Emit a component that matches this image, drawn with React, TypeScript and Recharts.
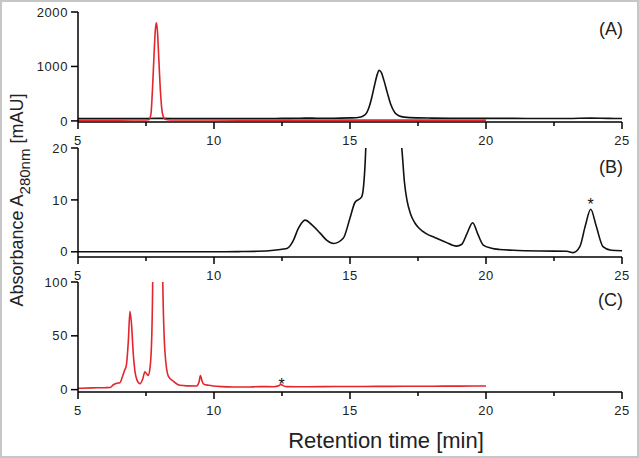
import React from 'react';
import { LineChart, Line, XAxis, YAxis, ReferenceDot } from 'recharts';

// Panel A: full-scale chromatograms (black + red overlay)
const A_BLACK_T = [5, 6, 7, 8, 9, 10, 11, 12, 12.5, 13, 13.35, 13.8, 14.4, 15, 15.3, 15.55, 15.7, 15.8, 15.9, 16.0, 16.07, 16.15, 16.25, 16.37, 16.5, 16.65, 16.8, 17.0, 17.5, 18, 19, 19.5, 20, 21, 22, 23, 23.85, 24.5, 25];
const A_BLACK_V = [45, 45, 45, 46, 45, 45, 45, 45, 46, 48, 52, 49, 48, 55, 62, 110, 250, 430, 650, 850, 930, 890, 740, 520, 300, 150, 95, 70, 56, 52, 48, 50, 47, 46, 45, 45, 52, 46, 45];
const A_RED_T = [5, 6, 7, 7.5, 7.6, 7.68, 7.74, 7.79, 7.84, 7.88, 7.92, 7.97, 8.03, 8.1, 8.2, 8.4, 9, 10, 12, 15, 18, 20];
const A_RED_V = [15, 15, 16, 18, 20, 120, 600, 1150, 1650, 1800, 1650, 1150, 550, 150, 30, 18, 17, 16, 15, 15, 15, 15];

// Panel B: zoom of black trace
const B_T = [5, 6, 7, 8, 9, 10, 11, 11.6, 12.2, 12.5, 12.7, 12.9, 13.1, 13.35, 13.6, 13.9, 14.15, 14.4, 14.75, 15.0, 15.18, 15.43, 15.52, 15.6, 16.07, 16.8, 16.92, 17.0, 17.1, 17.22, 17.38, 17.55, 17.8, 18.1, 18.5, 18.92, 19.1, 19.3, 19.51, 19.7, 19.9, 20.2, 20.5, 21, 22, 22.97, 23.2, 23.45, 23.65, 23.85, 24.05, 24.3, 24.6, 25];
const B_V = [0, 0, 0, 0, 0, 0, 0.05, 0.1, 0.3, 0.5, 0.7, 2.0, 4.5, 6.1, 5.2, 3.6, 2.2, 1.6, 2.6, 6.5, 9.5, 10.6, 14, 24, 930, 26, 19, 13.5, 9.8, 7.4, 5.6, 4.5, 3.5, 2.8, 1.9, 1.1, 1.4, 3.5, 5.6, 3.4, 1.3, 0.7, 0.45, 0.3, 0.15, 0.1, -0.15, 1.0, 5.0, 8.2, 5.0, 1.0, 0.3, 0.2];

// Panel C: zoom of red trace
const C_T = [5, 5.5, 6, 6.18, 6.3, 6.4, 6.54, 6.62, 6.7, 6.78, 6.85, 6.91, 6.97, 7.03, 7.1, 7.16, 7.28, 7.38, 7.46, 7.53, 7.58, 7.64, 7.7, 7.75, 7.88, 8.11, 8.2, 8.32, 8.5, 8.75, 9.0, 9.36, 9.45, 9.5, 9.56, 9.63, 9.8, 9.97, 10.3, 10.71, 11.2, 11.69, 12.2, 12.38, 12.46, 12.55, 12.67, 13, 14, 15, 16, 17, 18, 19, 20];
const C_V = [1.2, 1.6, 1.8, 2.0, 4.5, 5.8, 6.4, 11, 17, 23, 45, 72.8, 60, 34, 16, 9.5, 5.5, 10, 16.6, 14.5, 13.2, 18.8, 40, 110, 1800, 110, 34, 12.6, 8, 4, 3.5, 3.4, 7, 13.2, 8, 4.9, 4, 3.4, 2.8, 2.5, 2.4, 2.8, 2.7, 3.5, 4.9, 3.5, 2.8, 2.7, 2.8, 2.9, 3.0, 3.1, 3.2, 3.3, 3.4];

const X_TICKS = [5, 7.5, 10, 12.5, 15, 17.5, 20, 22.5, 25];
const PANEL_LABELS = ['(A)', '(B)', '(C)'];
const STAR_B = { t: 23.85, v: 9.2 };
const STAR_C = { t: 12.49, v: 5.2 };

const FONT = '"Liberation Sans", Arial, Helvetica, sans-serif';
const RED = '#e3262b';
const BLACK = '#111';

const zip = (t: number[], v: number[]) => t.map((x, i) => ({ t: x, v: v[i] }));

function XTick({ x, y, payload }: any) {
  const major = payload.value % 5 === 0;
  return (
    <g>
      <line x1={x} x2={x} y1={y} y2={y + (major ? 7 : 4)} stroke="#000" strokeWidth={1.5} />
      {major && (
        <text x={x} y={y + 23} textAnchor="middle" fontSize={13} letterSpacing={0.6} fill="#222" fontFamily={FONT}>
          {payload.value}
        </text>
      )}
    </g>
  );
}

function Panel({
  top,
  height,
  xHeight,
  domain,
  yTicks,
  series,
  star,
}: {
  top: number;
  height: number;
  xHeight: number;
  domain: [number, number];
  yTicks: number[];
  series: { data: { t: number; v: number }[]; color: string }[];
  star?: { t: number; v: number };
}) {
  return (
    <div style={{ position: 'absolute', left: 0, top }}>
      <LineChart width={639} height={height} margin={{ top: 12, right: 17, bottom: 0, left: 0 }}>
        <XAxis
          type="number"
          dataKey="t"
          domain={[5, 25]}
          ticks={X_TICKS}
          allowDataOverflow
          height={xHeight}
          tickSize={0}
          tickMargin={0}
          tickLine={false}
          tick={<XTick />}
          axisLine={{ stroke: '#000', strokeWidth: 1.5 }}
        />
        <YAxis
          type="number"
          domain={domain}
          ticks={yTicks}
          allowDataOverflow
          width={78}
          tickSize={7}
          tickMargin={3}
          tick={{ fontSize: 13, fill: '#222', fontFamily: FONT, letterSpacing: 0.6 }}
          tickLine={{ stroke: '#000', strokeWidth: 1.5 }}
          axisLine={{ stroke: '#000', strokeWidth: 1.5 }}
        />
        {series.map((s, i) => (
          <Line
            key={i}
            data={s.data}
            dataKey="v"
            type="monotone"
            stroke={s.color}
            strokeWidth={1.6}
            dot={false}
            isAnimationActive={false}
          />
        ))}
        {star && (
          <ReferenceDot
            x={star.t}
            y={star.v}
            r={1}
            fill="none"
            stroke="none"
            label={{ value: '*', position: 'center', fontSize: 16, fill: BLACK, fontFamily: FONT }}
          />
        )}
      </LineChart>
    </div>
  );
}

export default function App() {
  return (
    <div
      style={{
        position: 'absolute',
        left: 0,
        top: 0,
        width: 639,
        height: 458,
        boxSizing: 'border-box',
        border: '2px solid #c6c6c6',
        background: '#fff',
        fontFamily: FONT,
      }}
    >
      <div style={{ position: 'absolute', left: -2, top: -2 }}>
        <Panel
          top={0}
          height={155}
          xHeight={33}
          domain={[-20, 2000]}
          yTicks={[0, 1000, 2000]}
          series={[
            { data: zip(A_BLACK_T, A_BLACK_V), color: BLACK },
            { data: zip(A_RED_T, A_RED_V), color: RED },
          ]}
        />
        <Panel
          top={136}
          height={155}
          xHeight={34}
          domain={[-1, 20]}
          yTicks={[0, 10, 20]}
          series={[{ data: zip(B_T, B_V), color: BLACK }]}
          star={STAR_B}
        />
        <Panel
          top={270}
          height={160}
          xHeight={38}
          domain={[-2.2, 100]}
          yTicks={[0, 50, 100]}
          series={[{ data: zip(C_T, C_V), color: RED }]}
          star={STAR_C}
        />
        <svg width={639} height={458} style={{ position: 'absolute', left: 0, top: 0, pointerEvents: 'none' }}>
          <text x={623} y={35} textAnchor="end" fontSize={18} fill="#222" fontFamily={FONT}>{PANEL_LABELS[0]}</text>
          <text x={623} y={173} textAnchor="end" fontSize={18} fill="#222" fontFamily={FONT}>{PANEL_LABELS[1]}</text>
          <text x={623} y={306} textAnchor="end" fontSize={18} fill="#222" fontFamily={FONT}>{PANEL_LABELS[2]}</text>
          <text x={386} y={448} textAnchor="middle" fontSize={22} fill="#222" fontFamily={FONT}>
            Retention time [min]
          </text>
          <text transform="translate(22.5,200) rotate(-90)" textAnchor="middle" fontSize={18} fill="#222" fontFamily={FONT}>
            Absorbance A
            <tspan fontSize={15} dy={7}>280nm</tspan>
            <tspan dy={-7}> [mAU]</tspan>
          </text>
        </svg>
      </div>
    </div>
  );
}
